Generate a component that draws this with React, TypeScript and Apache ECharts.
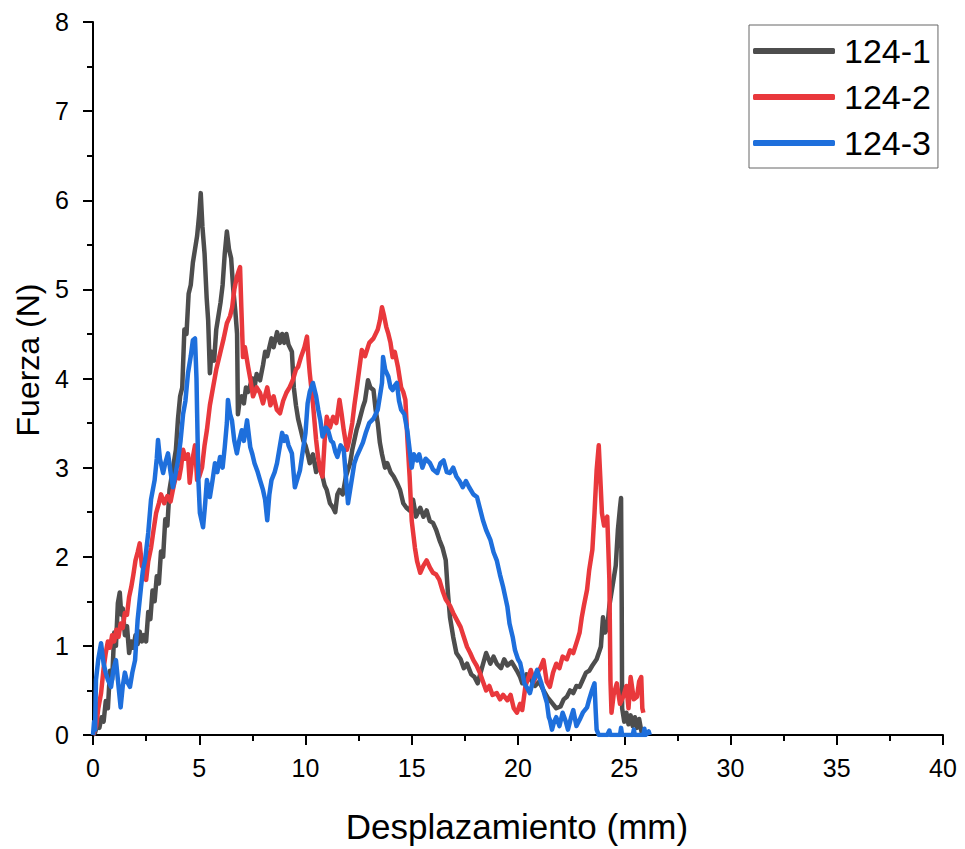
import React, { useEffect, useRef } from "react";
import * as echarts from "echarts";

const seriesNames = ["124-1", "124-2", "124-3"];
const seriesColors = ["#4d4d4d", "#e9383c", "#1e6fdc"];

const xTicks = [0, 5, 10, 15, 20, 25, 30, 35, 40];
const yTicks = [0, 1, 2, 3, 4, 5, 6, 7, 8];

const s1241: number[][] = [
  [0, 0], [0.1, 0.03], [0.2, 0.12], [0.3, 0.08], [0.4, 0.2], [0.5, 0.15], [0.6, 0.38], [0.7, 0.3], [0.8, 0.72], [0.9, 0.62],
  [1.0, 1.15], [1.08, 1.0], [1.17, 1.48], [1.26, 1.6], [1.33, 1.35], [1.4, 1.42], [1.5, 1.12], [1.6, 1.22], [1.7, 0.92], [1.8, 1.05],
  [1.9, 0.98], [2.0, 1.12], [2.1, 1.02], [2.2, 1.16], [2.3, 1.05], [2.4, 1.12], [2.5, 1.05], [2.6, 1.38], [2.7, 1.3], [2.8, 1.62],
  [2.9, 1.5], [3.0, 1.78], [3.1, 1.7], [3.2, 2.06], [3.3, 2.0], [3.4, 2.42], [3.5, 2.35], [3.6, 2.75], [3.7, 2.9], [3.8, 3.05],
  [3.9, 3.2], [4.0, 3.55], [4.1, 3.8], [4.2, 3.9], [4.3, 4.55], [4.4, 4.5], [4.5, 4.95], [4.6, 5.05], [4.7, 5.3], [4.8, 5.45],
  [4.9, 5.6], [5.0, 5.85], [5.07, 6.08], [5.15, 5.7], [5.25, 5.4], [5.35, 4.9], [5.42, 4.65], [5.5, 4.06], [5.58, 4.3], [5.7, 4.2],
  [5.8, 4.55], [5.9, 4.7], [6.0, 4.85], [6.1, 5.05], [6.2, 5.4], [6.3, 5.65], [6.4, 5.45], [6.5, 5.35], [6.6, 5.0], [6.7, 4.75],
  [6.78, 4.5], [6.82, 3.6], [6.9, 3.75], [7.0, 3.8], [7.1, 3.72], [7.2, 3.9], [7.3, 3.85], [7.5, 4.0], [7.6, 3.9], [7.7, 4.05],
  [7.86, 3.98], [8.0, 4.15], [8.1, 4.3], [8.2, 4.25], [8.4, 4.45], [8.5, 4.35], [8.66, 4.52], [8.8, 4.4], [8.9, 4.5], [9.0, 4.4],
  [9.1, 4.5], [9.2, 4.38], [9.36, 4.3], [9.45, 3.9], [9.55, 3.7], [9.65, 3.55], [9.8, 3.4], [9.9, 3.3], [10.0, 3.25], [10.1, 3.16],
  [10.2, 3.05], [10.35, 3.15], [10.5, 2.95], [10.6, 3.05], [10.8, 2.9], [10.9, 2.8], [11.0, 2.75], [11.15, 2.6], [11.3, 2.55], [11.4, 2.5],
  [11.5, 2.7], [11.6, 2.75], [11.75, 2.7], [11.9, 2.9], [12.1, 3.05], [12.2, 3.2], [12.4, 3.42], [12.5, 3.5], [12.7, 3.68], [12.8, 3.75],
  [12.94, 3.98], [13.05, 3.9], [13.2, 3.87], [13.3, 3.65], [13.4, 3.5], [13.5, 3.28], [13.6, 3.15], [13.74, 3.0], [13.85, 3.05], [14.0, 2.95],
  [14.15, 2.9], [14.3, 2.83], [14.45, 2.75], [14.6, 2.6], [14.75, 2.55], [14.9, 2.52], [15.06, 2.64], [15.2, 2.45], [15.4, 2.55], [15.55, 2.45],
  [15.7, 2.52], [15.85, 2.4], [16.0, 2.38], [16.15, 2.3], [16.3, 2.19], [16.45, 2.1], [16.6, 1.96], [16.7, 1.6], [16.8, 1.32], [16.95, 1.1],
  [17.1, 0.92], [17.3, 0.85], [17.45, 0.75], [17.6, 0.8], [17.8, 0.68], [17.95, 0.65], [18.1, 0.58], [18.3, 0.75], [18.5, 0.92], [18.7, 0.8],
  [18.85, 0.88], [19.0, 0.8], [19.2, 0.75], [19.35, 0.85], [19.5, 0.78], [19.7, 0.82], [19.95, 0.72], [20.1, 0.65], [20.2, 0.58], [20.4, 0.68],
  [20.6, 0.62], [20.8, 0.55], [21.0, 0.6], [21.2, 0.5], [21.4, 0.42], [21.6, 0.36], [21.8, 0.3], [22.0, 0.32], [22.15, 0.4], [22.3, 0.43],
  [22.45, 0.5], [22.6, 0.47], [22.75, 0.55], [22.9, 0.54], [23.05, 0.62], [23.2, 0.7], [23.35, 0.72], [23.5, 0.78], [23.7, 0.85], [23.9, 0.99],
  [24.0, 1.32], [24.1, 1.15], [24.2, 1.2], [24.3, 1.45], [24.4, 1.6], [24.5, 1.75], [24.6, 1.9], [24.7, 2.3], [24.8, 2.55], [24.85, 2.66],
  [24.88, 1.5], [24.9, 0.3], [25.0, 0.15], [25.1, 0.25], [25.2, 0.12], [25.3, 0.22], [25.4, 0.1], [25.5, 0.2], [25.6, 0.08], [25.7, 0.18],
  [25.8, 0.05], [25.85, 0]
];

const s1242: number[][] = [
  [0, 0], [0.15, 0.1], [0.25, 0.3], [0.38, 0.47], [0.5, 0.75], [0.6, 0.92], [0.7, 1.05], [0.8, 0.98], [0.9, 1.12], [1.0, 1.05],
  [1.1, 1.18], [1.2, 1.1], [1.3, 1.25], [1.4, 1.2], [1.5, 1.37], [1.6, 1.35], [1.7, 1.55], [1.8, 1.66], [1.9, 1.8], [2.0, 1.96],
  [2.1, 2.05], [2.2, 2.15], [2.3, 1.9], [2.4, 1.85], [2.5, 1.74], [2.6, 1.95], [2.73, 2.1], [2.85, 2.3], [2.97, 2.49], [3.1, 2.6],
  [3.2, 2.7], [3.35, 2.6], [3.5, 2.68], [3.65, 2.62], [3.8, 2.8], [3.95, 2.94], [4.05, 2.88], [4.14, 3.0], [4.24, 3.2], [4.35, 3.1],
  [4.47, 3.15], [4.55, 2.83], [4.65, 3.05], [4.8, 3.25], [4.9, 2.86], [5.0, 2.9], [5.13, 3.0], [5.25, 3.25], [5.36, 3.42], [5.5, 3.7],
  [5.65, 3.9], [5.8, 4.1], [5.98, 4.28], [6.15, 4.45], [6.3, 4.62], [6.45, 4.7], [6.55, 4.8], [6.65, 5.0], [6.77, 5.14], [6.85, 5.2],
  [6.92, 5.25], [6.98, 4.8], [7.06, 4.24], [7.15, 4.35], [7.3, 4.13], [7.4, 4.0], [7.53, 3.8], [7.7, 3.9], [7.86, 3.84], [8.0, 3.72],
  [8.2, 3.9], [8.35, 3.7], [8.5, 3.8], [8.65, 3.65], [8.8, 3.61], [8.95, 3.75], [9.1, 3.84], [9.25, 3.9], [9.4, 3.98], [9.55, 4.1],
  [9.65, 4.13], [9.8, 4.25], [9.95, 4.35], [10.07, 4.47], [10.15, 4.2], [10.2, 4.06], [10.35, 3.72], [10.5, 3.31], [10.6, 3.1], [10.7, 2.97],
  [10.8, 2.9], [10.9, 3.3], [11.0, 3.57], [11.15, 3.45], [11.3, 3.57], [11.45, 3.5], [11.6, 3.76], [11.7, 3.6], [11.8, 3.42], [11.95, 3.2],
  [12.05, 3.3], [12.2, 3.5], [12.3, 3.7], [12.4, 3.87], [12.5, 4.05], [12.65, 4.32], [12.8, 4.25], [13.0, 4.4], [13.2, 4.45], [13.4, 4.55],
  [13.5, 4.65], [13.6, 4.8], [13.7, 4.7], [13.8, 4.58], [13.9, 4.5], [14.0, 4.4], [14.1, 4.24], [14.2, 4.3], [14.35, 4.13], [14.5, 3.9],
  [14.6, 3.85], [14.7, 3.76], [14.8, 3.3], [14.9, 2.9], [15.0, 2.4], [15.15, 2.1], [15.25, 1.95], [15.4, 1.82], [15.55, 1.9], [15.7, 1.96],
  [15.85, 1.88], [16.0, 1.82], [16.15, 1.8], [16.3, 1.74], [16.45, 1.62], [16.6, 1.52], [16.8, 1.45], [16.95, 1.37], [17.1, 1.3], [17.3, 1.21],
  [17.45, 1.1], [17.6, 0.99], [17.75, 0.92], [17.9, 0.84], [18.05, 0.78], [18.2, 0.7], [18.35, 0.6], [18.5, 0.5], [18.65, 0.55], [18.8, 0.45],
  [19.0, 0.47], [19.15, 0.4], [19.3, 0.45], [19.5, 0.39], [19.65, 0.45], [19.8, 0.3], [19.95, 0.25], [20.1, 0.35], [20.2, 0.28], [20.35, 0.55],
  [20.5, 0.65], [20.6, 0.73], [20.75, 0.6], [20.9, 0.7], [21.05, 0.75], [21.2, 0.84], [21.35, 0.6], [21.5, 0.54], [21.65, 0.7], [21.8, 0.8],
  [21.95, 0.75], [22.1, 0.88], [22.3, 0.85], [22.45, 0.95], [22.6, 0.92], [22.8, 1.07], [22.9, 1.15], [23.0, 1.32], [23.1, 1.45], [23.25, 1.63],
  [23.35, 1.85], [23.5, 2.08], [23.6, 2.49], [23.7, 2.97], [23.8, 3.25], [23.87, 2.9], [23.95, 2.49], [24.05, 2.35], [24.1, 2.41], [24.2, 2.45],
  [24.25, 2.1], [24.3, 1.74], [24.35, 0.62], [24.4, 0.25], [24.5, 0.45], [24.65, 0.58], [24.8, 0.35], [24.95, 0.43], [25.1, 0.55], [25.2, 0.3],
  [25.3, 0.65], [25.45, 0.4], [25.6, 0.43], [25.7, 0.6], [25.8, 0.65], [25.85, 0.3], [25.9, 0.25]
];

const s1243: number[][] = [
  [0, 0], [0.05, 0.15], [0.1, 0.06], [0.14, 0.62], [0.25, 0.85], [0.38, 1.03], [0.5, 0.8], [0.6, 0.7], [0.7, 0.62], [0.85, 0.54],
  [0.95, 0.72], [1.08, 0.84], [1.2, 0.55], [1.3, 0.31], [1.4, 0.55], [1.5, 0.7], [1.6, 0.6], [1.74, 0.54], [1.85, 0.7], [1.98, 0.84],
  [2.1, 1.29], [2.26, 1.66], [2.35, 1.85], [2.45, 1.96], [2.6, 2.27], [2.73, 2.64], [2.9, 2.86], [3.0, 3.1], [3.06, 3.31], [3.15, 3.1],
  [3.3, 2.94], [3.4, 3.05], [3.53, 3.16], [3.65, 2.95], [3.76, 2.78], [3.9, 2.95], [4.0, 3.08], [4.12, 3.3], [4.24, 3.6], [4.35, 3.75],
  [4.47, 4.06], [4.6, 4.25], [4.7, 4.43], [4.8, 4.45], [4.87, 4.0], [4.9, 3.61], [4.96, 2.86], [5.03, 2.49], [5.18, 2.33], [5.28, 2.6],
  [5.36, 2.86], [5.5, 2.67], [5.62, 2.85], [5.74, 3.05], [5.85, 2.95], [5.98, 3.12], [6.1, 3.0], [6.2, 3.23], [6.3, 3.5], [6.35, 3.76],
  [6.45, 3.6], [6.54, 3.53], [6.65, 3.3], [6.77, 3.16], [6.88, 3.3], [7.0, 3.42], [7.1, 3.3], [7.25, 3.53], [7.4, 3.23], [7.5, 3.15],
  [7.6, 3.05], [7.75, 2.95], [7.86, 2.86], [8.0, 2.75], [8.1, 2.64], [8.2, 2.41], [8.3, 2.7], [8.4, 2.86], [8.55, 2.95], [8.66, 3.05],
  [8.8, 3.25], [8.9, 3.39], [9.0, 3.3], [9.1, 3.35], [9.2, 3.25], [9.36, 3.16], [9.5, 2.78], [9.6, 2.86], [9.74, 2.97], [9.85, 3.15],
  [10.0, 3.39], [10.1, 3.72], [10.2, 3.85], [10.35, 3.95], [10.5, 3.8], [10.6, 3.65], [10.7, 3.53], [10.8, 3.35], [10.95, 3.45], [11.06, 3.42],
  [11.2, 3.3], [11.3, 3.28], [11.4, 3.18], [11.5, 3.12], [11.65, 3.25], [11.8, 3.2], [11.9, 2.9], [12.0, 2.6], [12.1, 2.75], [12.2, 2.9],
  [12.3, 3.05], [12.4, 3.12], [12.55, 3.2], [12.7, 3.28], [12.85, 3.4], [13.0, 3.5], [13.2, 3.55], [13.4, 3.65], [13.5, 3.8], [13.6, 3.95],
  [13.65, 4.24], [13.75, 4.1], [13.9, 4.02], [14.0, 3.9], [14.1, 3.87], [14.2, 3.92], [14.3, 3.95], [14.4, 3.75], [14.5, 3.65], [14.65, 3.6],
  [14.8, 3.4], [14.9, 3.2], [15.0, 3.0], [15.1, 3.15], [15.25, 3.08], [15.35, 3.15], [15.5, 3.0], [15.65, 3.1], [15.86, 3.05], [16.0, 2.98],
  [16.2, 2.94], [16.35, 3.05], [16.5, 3.08], [16.65, 2.95], [16.8, 2.94], [16.95, 3.0], [17.1, 2.9], [17.25, 2.85], [17.4, 2.78], [17.55, 2.85],
  [17.7, 2.78], [17.9, 2.7], [18.07, 2.67], [18.2, 2.55], [18.35, 2.41], [18.5, 2.3], [18.7, 2.19], [18.85, 2.05], [19.0, 1.96], [19.15, 1.8],
  [19.3, 1.66], [19.4, 1.55], [19.5, 1.44], [19.6, 1.25], [19.75, 1.1], [19.86, 0.95], [20.0, 0.85], [20.1, 0.81], [20.2, 0.7], [20.3, 0.58],
  [20.45, 0.52], [20.56, 0.47], [20.7, 0.6], [20.9, 0.73], [21.0, 0.65], [21.1, 0.58], [21.25, 0.45], [21.36, 0.36], [21.45, 0.2], [21.5, 0.17],
  [21.6, 0.06], [21.7, 0.15], [21.8, 0.2], [21.95, 0.1], [22.1, 0.25], [22.25, 0.15], [22.35, 0.06], [22.5, 0.2], [22.6, 0.28], [22.75, 0.1],
  [22.9, 0.17], [23.05, 0.25], [23.25, 0.31], [23.35, 0.4], [23.48, 0.5], [23.6, 0.58], [23.65, 0.3], [23.7, 0.06], [23.8, 0], [24.2, 0],
  [24.3, 0.05], [24.35, 0], [24.8, 0], [24.85, 0.08], [24.9, 0], [25.4, 0], [25.45, 0.06], [25.5, 0], [25.9, 0], [25.95, 0.07],
  [26.0, 0], [26.15, 0.04], [26.2, 0]
];

const seriesData = [s1241, s1242, s1243];

const FONT = "'Liberation Sans', Arial, sans-serif";

export default function App() {
  const ref = useRef<HTMLDivElement>(null);

  useEffect(() => {
    if (!ref.current) return;
    const chart = echarts.init(ref.current, null, { renderer: "svg" });
    const axisCommon = {
      axisLine: { show: true, onZero: false, lineStyle: { color: "#000", width: 2 } },
      axisTick: { show: true, inside: false, length: 10, lineStyle: { color: "#000", width: 2 } },
      minorTick: { show: true, splitNumber: 2, length: 6, lineStyle: { color: "#000", width: 2 } },
      splitLine: { show: false },
      minorSplitLine: { show: false },
    };
    chart.setOption({
      animation: false,
      backgroundColor: "#ffffff",
      grid: { left: 93, right: 22, top: 22, bottom: 114, containLabel: false },
      xAxis: {
        type: "value",
        min: xTicks[0],
        max: xTicks[xTicks.length - 1],
        interval: 5,
        ...axisCommon,
        axisLabel: { color: "#000", fontSize: 25, fontFamily: FONT, margin: 20 },
      },
      yAxis: {
        type: "value",
        min: yTicks[0],
        max: yTicks[yTicks.length - 1],
        interval: 1,
        ...axisCommon,
        axisLabel: { color: "#000", fontSize: 25, fontFamily: FONT, margin: 24 },
      },
      legend: {
        show: true,
        orient: "vertical",
        left: 749,
        top: 25,
        padding: [8, 7, 7, 4],
        borderColor: "#666",
        borderWidth: 1,
        itemWidth: 82,
        itemHeight: 6,
        itemGap: 10,
        icon: "roundRect",
        textStyle: { color: "#000", fontSize: 34, fontFamily: FONT, lineHeight: 36, padding: [0, 0, 0, 4] },
        data: seriesNames,
      },
      graphic: [
        {
          type: "text",
          x: 28,
          y: 360,
          rotation: Math.PI / 2,
          style: {
            text: "Fuerza (N)",
            fontSize: 32,
            fontFamily: FONT,
            fill: "#000",
            align: "center",
            verticalAlign: "middle",
          },
        },
        {
          type: "text",
          x: 517,
          y: 826,
          style: {
            text: "Desplazamiento (mm)",
            fontSize: 35,
            fontFamily: FONT,
            fill: "#000",
            align: "center",
            verticalAlign: "middle",
          },
        },
      ],
      series: seriesNames.map((name, i) => ({
        name,
        type: "line",
        data: seriesData[i],
        showSymbol: false,
        symbol: "none",
        lineStyle: { color: seriesColors[i], width: 4.5, join: "round" },
        itemStyle: { color: seriesColors[i] },
        z: 2 + i,
      })),
    });
    return () => chart.dispose();
  }, []);

  return (
    <div
      ref={ref}
      style={{ position: "fixed", left: 0, top: 0, width: 965, height: 849, background: "#fff" }}
    />
  );
}
